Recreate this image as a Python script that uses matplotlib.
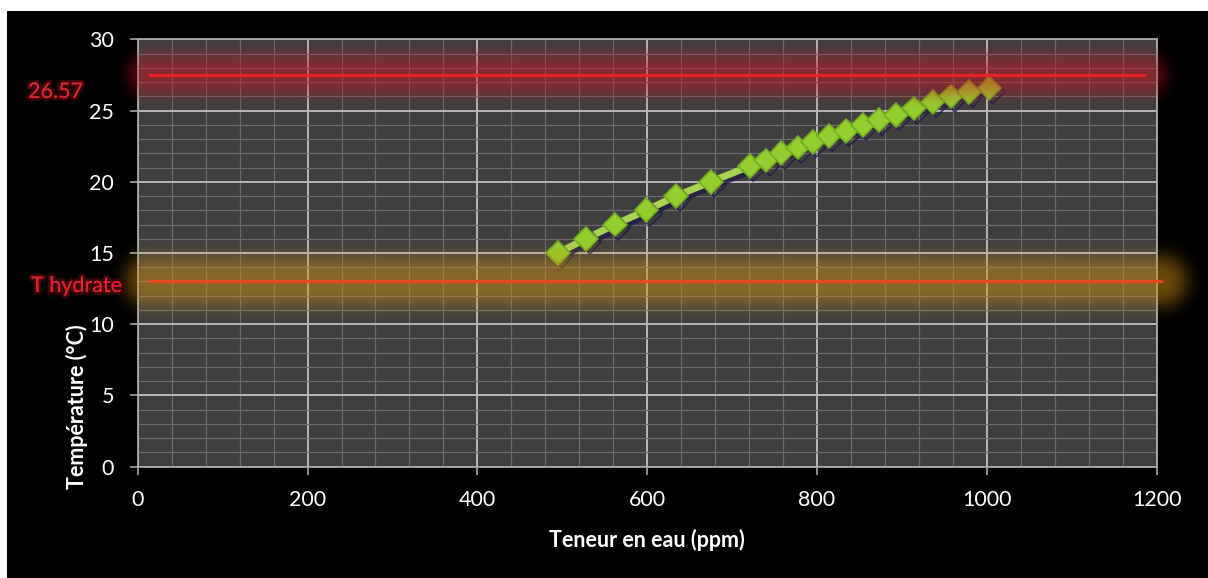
import numpy as np
import matplotlib
matplotlib.use("Agg")
import matplotlib.pyplot as plt
import matplotlib.patheffects as pe
from matplotlib.patches import Rectangle
from matplotlib.ticker import MultipleLocator, FixedLocator

# ---- data -------------------------------------------------------------
water_ppm = [495, 528, 562, 599, 634, 675, 721, 740, 758, 777, 795,
             814, 834, 854, 873, 893, 914, 936, 958, 979, 1003]
temperature_c = [15.0, 16.0, 17.0, 18.0, 19.0, 20.0, 21.1, 21.5, 22.0,
                 22.4, 22.8, 23.2, 23.55, 24.0, 24.35, 24.7, 25.15, 25.6,
                 26.0, 26.3, 26.57]

upper_text = "26.57"
upper_level = 27.5
upper_span = [15, 1185]

hydrate_text = "T hydrate"
hydrate_level = 13.0
hydrate_span = [15, 1205]

x_ticks = [0, 200, 400, 600, 800, 1000, 1200]
y_ticks = [0, 5, 10, 15, 20, 25, 30]
x_label = "Teneur en eau (ppm)"
y_label = "Température (°C)"

# ---- figure -----------------------------------------------------------
W, H = 1208, 578
plt.rcParams["font.family"] = ["Lato", "DejaVu Sans"]
fig = plt.figure(figsize=(W / 100, H / 100), dpi=100, facecolor="white")
fig.patches.append(Rectangle((7 / W, 0), 1, 1 - 11 / H, transform=fig.transFigure,
                             facecolor="black", edgecolor="none", zorder=-10))

left, right, bottom, top = 137.7, 1156.7, 466.7, 39.3
ax = fig.add_axes([left / W, 1 - bottom / H, (right - left) / W, (bottom - top) / H])
ax.set_facecolor("#3f3f3f")
ax.set_xlim(x_ticks[0], x_ticks[-1])
ax.set_ylim(y_ticks[0], y_ticks[-1])

ax.xaxis.set_major_locator(FixedLocator(x_ticks))
ax.yaxis.set_major_locator(FixedLocator(y_ticks))
ax.xaxis.set_minor_locator(MultipleLocator(40))
ax.yaxis.set_minor_locator(MultipleLocator(1))
ax.set_axisbelow(True)
ax.grid(which="minor", color="#6c6c6c", lw=0.9)
ax.grid(which="major", color="#b8b8b8", lw=1.4)
for sp in ax.spines.values():
    sp.set_color("#a8a8a8")
    sp.set_linewidth(1.3)
ax.tick_params(which="major", direction="out", length=6, width=1.2, color="#a8a8a8",
               labelcolor="white", labelsize=15.5)
ax.tick_params(axis="y", pad=11)
ax.tick_params(axis="x", pad=11)
ax.tick_params(which="minor", length=0)
ax.set_xticklabels([str(v) for v in x_ticks])
ax.set_yticklabels([str(v) for v in y_ticks])

# ---- series -----------------------------------------------------------
shadow = [pe.SimpleLineShadow(offset=(2.5, -2.5), shadow_color="#231c48", alpha=0.85),
          pe.Normal()]
ax.plot(water_ppm, temperature_c, color="#a8d252", lw=5, solid_capstyle="round",
        zorder=3, path_effects=shadow)
ax.plot(water_ppm, temperature_c, linestyle="none", marker="D", markersize=12,
        markerfacecolor="#94ce2e", markeredgecolor="#74ac22", markeredgewidth=1.2,
        zorder=4, path_effects=shadow)


def glow_band(level, span, rgb, half_px, peak_alpha, z):
    """Soft glow around a horizontal segment, computed in pixel space."""
    tr = ax.transData
    px0, py = tr.transform((span[0], level))
    px1, _ = tr.transform((span[1], level))
    pad = half_px * 1.8
    nx = int(px1 - px0 + 2 * pad)
    ny = int(2 * pad)
    xs = np.linspace(px0 - pad, px1 + pad, nx)
    ys = np.linspace(py - pad, py + pad, ny)
    X, Y = np.meshgrid(xs, ys)
    dx = np.maximum(0, np.maximum(px0 - X, X - px1))
    d = np.hypot(dx, Y - py)
    alpha = peak_alpha * np.exp(-(d / half_px) ** 3)
    img = np.zeros((ny, nx, 4))
    img[..., :3] = np.array(rgb) / 255.0
    img[..., 3] = alpha
    inv = tr.inverted()
    ex0, ey0 = inv.transform((px0 - pad, py - pad))
    ex1, ey1 = inv.transform((px1 + pad, py + pad))
    im = ax.imshow(img, extent=[ex0, ex1, ey0, ey1], origin="lower", aspect="auto",
                   interpolation="bilinear", zorder=z)
    im.set_clip_on(False)


glow_band(upper_level, upper_span, (205, 20, 32), 23, 0.48, 5)
glow_band(hydrate_level, hydrate_span, (205, 140, 20), 27, 0.52, 5)

ax.plot(upper_span, [upper_level, upper_level], color="#e6232a", lw=2.4, zorder=6,
        clip_on=False)
ax.plot(hydrate_span, [hydrate_level, hydrate_level], color="#e8481e", lw=2.4, zorder=6,
        clip_on=False)

ax.set_xlim(x_ticks[0], x_ticks[-1])
ax.set_ylim(y_ticks[0], y_ticks[-1])

# ---- labels -----------------------------------------------------------
ax.set_xlabel(x_label, color="white", fontsize=15.5, fontweight="bold", va="center")
ax.xaxis.set_label_coords(0.5, -0.1715)
ax.set_ylabel(y_label, color="white", fontsize=15.5, fontweight="bold", va="center")
ax.yaxis.set_label_coords(-0.0596, 0.14)

red_glow = [pe.withStroke(linewidth=4, foreground="#3a0508"), pe.Normal()]
fig.text(28 / W, 1 - 92 / H, upper_text, color="#d42832", fontsize=15.5,
         ha="left", va="center", path_effects=red_glow, zorder=10)
fig.text(31 / W, 1 - 286 / H, hydrate_text, color="#e0202a", fontsize=15.5,
         ha="left", va="center", path_effects=red_glow, zorder=10)

fig.savefig("out.png", dpi=100, facecolor="white")
